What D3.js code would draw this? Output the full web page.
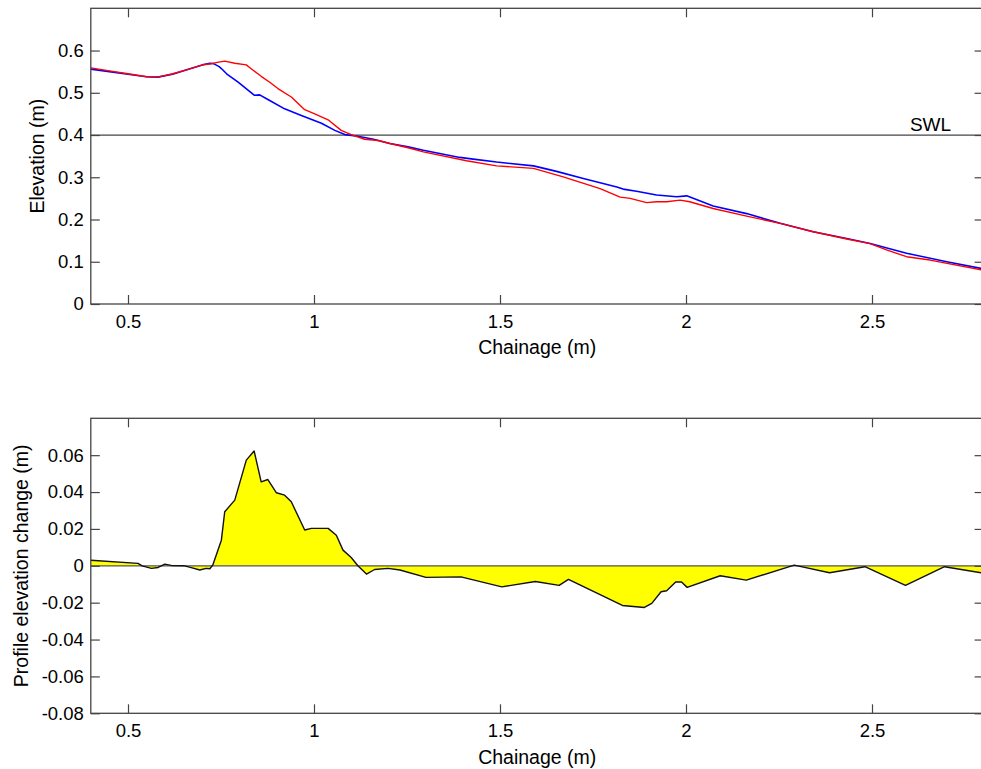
<!DOCTYPE html>
<html>
<head>
<meta charset="utf-8">
<script src="https://cdn.jsdelivr.net/npm/d3@7/dist/d3.min.js"></script>
<style>
  html, body { margin: 0; padding: 0; background: #fff; }
  svg { display: block; font-family: "Liberation Sans", Arial, Helvetica, sans-serif; }
  .tick text { font-size: 18.5px; fill: #000; }
  .tick line { stroke: #444; stroke-width: 1.2; }
</style>
</head>
<body>
<svg id="fig" width="981" height="769"></svg>
<script>
// Beach profile measurements: initial (blue) and final (red) elevation, chainage in metres
const initialChainage = [0.40, 0.45, 0.50, 0.55, 0.58, 0.62, 0.66, 0.70, 0.72, 0.73, 0.745, 0.755, 0.765, 0.796, 0.84, 0.854, 0.876, 0.921, 0.966, 1.02, 1.056, 1.083, 1.118, 1.16, 1.204, 1.253, 1.294, 1.392, 1.428, 1.491, 1.59, 1.652, 1.724, 1.814, 1.831, 1.867, 1.921, 1.975, 2.002, 2.073, 2.163, 2.253, 2.342, 2.432, 2.495, 2.593, 2.701, 2.80];
const initialElevation = [0.556, 0.550, 0.544, 0.538, 0.537, 0.544, 0.555, 0.566, 0.570, 0.569, 0.562, 0.554, 0.545, 0.525, 0.494, 0.495, 0.484, 0.462, 0.446, 0.428, 0.411, 0.401, 0.397, 0.390, 0.380, 0.372, 0.364, 0.347, 0.343, 0.336, 0.327, 0.314, 0.297, 0.277, 0.272, 0.267, 0.258, 0.254, 0.256, 0.232, 0.214, 0.191, 0.171, 0.155, 0.143, 0.120, 0.100, 0.083];

const finalChainage = [0.40, 0.45, 0.50, 0.55, 0.58, 0.62, 0.66, 0.70, 0.72, 0.74, 0.76, 0.787, 0.818, 0.831, 0.858, 0.881, 0.903, 0.939, 0.975, 1.002, 1.038, 1.073, 1.10, 1.136, 1.172, 1.204, 1.253, 1.294, 1.41, 1.491, 1.59, 1.67, 1.769, 1.823, 1.85, 1.894, 1.921, 1.948, 1.984, 2.01, 2.073, 2.163, 2.253, 2.342, 2.432, 2.495, 2.539, 2.593, 2.656, 2.80];
const finalElevation = [0.559, 0.552, 0.545, 0.538, 0.537, 0.545, 0.555, 0.566, 0.568, 0.572, 0.575, 0.570, 0.566, 0.557, 0.539, 0.525, 0.510, 0.490, 0.460, 0.450, 0.436, 0.411, 0.401, 0.390, 0.387, 0.380, 0.370, 0.360, 0.339, 0.327, 0.321, 0.301, 0.273, 0.253, 0.250, 0.240, 0.242, 0.242, 0.246, 0.242, 0.226, 0.208, 0.191, 0.171, 0.154, 0.143, 0.128, 0.112, 0.104, 0.080];

// Profile elevation change (final minus initial)
const changeChainage = [0.40, 0.527, 0.538, 0.563, 0.581, 0.599, 0.616, 0.652, 0.670, 0.693, 0.710, 0.720, 0.728, 0.751, 0.760, 0.787, 0.818, 0.839, 0.858, 0.876, 0.899, 0.921, 0.939, 0.975, 0.993, 1.038, 1.060, 1.078, 1.100, 1.118, 1.141, 1.163, 1.199, 1.231, 1.301, 1.395, 1.505, 1.595, 1.659, 1.684, 1.829, 1.888, 1.908, 1.933, 1.948, 1.973, 1.988, 2.003, 2.092, 2.162, 2.291, 2.386, 2.481, 2.590, 2.695, 2.80];
const changeValue = [0.0030, 0.0013, 0.0, -0.0014, -0.0009, 0.0009, 0.0002, 0.0, -0.0010, -0.0023, -0.0014, -0.0016, 0.0004, 0.0139, 0.0293, 0.0356, 0.0573, 0.0623, 0.0455, 0.0468, 0.0396, 0.0383, 0.0347, 0.0194, 0.0203, 0.0203, 0.0166, 0.0085, 0.0045, 0.0, -0.0045, -0.0020, -0.0014, -0.0023, -0.0063, -0.0060, -0.0114, -0.0085, -0.0106, -0.0074, -0.0215, -0.0226, -0.0204, -0.0141, -0.0135, -0.0087, -0.0088, -0.0117, -0.0054, -0.0078, 0.0004, -0.0038, -0.0005, -0.0106, -0.0005, -0.0040];

// Still water level
const swlLevel = 0.4;
const swlLabel = "SWL";

// Axis ticks and labels
const chainageTicks = [0.5, 1, 1.5, 2, 2.5];
const chainageTickLabels = ["0.5", "1", "1.5", "2", "2.5"];
const elevationTicks = [0, 0.1, 0.2, 0.3, 0.4, 0.5, 0.6];
const elevationTickLabels = ["0", "0.1", "0.2", "0.3", "0.4", "0.5", "0.6"];
const changeTicks = [-0.08, -0.06, -0.04, -0.02, 0, 0.02, 0.04, 0.06];
const changeTickLabels = ["-0.08", "-0.06", "-0.04", "-0.02", "0", "0.02", "0.04", "0.06"];

const chainageDomain = [0.4, 2.8];
const elevationDomain = [0, 0.7];
const changeDomain = [-0.08, 0.08];

const svg = d3.select("#fig");
const left = 90.8, right = 983.6;
const tickLen = 9;

const x = d3.scaleLinear().domain(chainageDomain).range([left, right]);

function frame(g, top, bottom, yScale, yTicks, yLabels) {
  const w = right - left;
  const h = bottom - top;
  const bottomAxis = d3.axisBottom(x).tickValues(chainageTicks)
    .tickFormat((d, i) => chainageTickLabels[i]).tickSizeInner(-tickLen).tickSizeOuter(0).tickPadding(11);
  const topAxis = d3.axisTop(x).tickValues(chainageTicks)
    .tickFormat("").tickSizeInner(-tickLen).tickSizeOuter(0);
  const leftAxis = d3.axisLeft(yScale).tickValues(yTicks)
    .tickFormat((d, i) => yLabels[i]).tickSizeInner(-tickLen).tickSizeOuter(0).tickPadding(7);
  const rightAxis = d3.axisRight(yScale).tickValues(yTicks)
    .tickFormat("").tickSizeInner(-tickLen).tickSizeOuter(0);

  g.append("g").attr("transform", `translate(0,${bottom})`).call(bottomAxis).call(a => a.select(".domain").remove());
  g.append("g").attr("transform", `translate(0,${top})`).call(topAxis).call(a => a.select(".domain").remove());
  g.append("g").attr("transform", `translate(${left},0)`).call(leftAxis).call(a => a.select(".domain").remove());
  g.append("g").attr("transform", `translate(${right},0)`).call(rightAxis).call(a => a.select(".domain").remove());
  g.selectAll(".tick text").attr("font-family", null).attr("font-size", null);

  g.append("rect")
    .attr("x", left).attr("y", top).attr("width", w).attr("height", h)
    .attr("fill", "none").attr("stroke", "#444").attr("stroke-width", 1.3);
}

// ---------- Upper panel: elevation profiles ----------
const topY0 = 8.3, topY1 = 304;
const yTop = d3.scaleLinear().domain(elevationDomain).range([topY1, topY0]);
const gTop = svg.append("g");

gTop.append("line")
  .attr("x1", x(chainageDomain[0])).attr("x2", x(chainageDomain[1]))
  .attr("y1", yTop(swlLevel)).attr("y2", yTop(swlLevel))
  .attr("stroke", "#444").attr("stroke-width", 1.3);

const profileLine = d3.line().x(d => x(d[0])).y(d => yTop(d[1]));

gTop.append("path")
  .datum(d3.zip(initialChainage, initialElevation))
  .attr("d", profileLine)
  .attr("fill", "none").attr("stroke", "#0000ff").attr("stroke-width", 1.6)
  .attr("stroke-linejoin", "round");

gTop.append("path")
  .datum(d3.zip(finalChainage, finalElevation))
  .attr("d", profileLine)
  .attr("fill", "none").attr("stroke", "#ff0000").attr("stroke-width", 1.4)
  .attr("stroke-linejoin", "round");

gTop.append("text")
  .attr("x", x(2.602)).attr("y", yTop(swlLevel) - 4.5)
  .attr("font-size", 19).text(swlLabel);

frame(gTop, topY0, topY1, yTop, elevationTicks, elevationTickLabels);

gTop.append("text")
  .attr("x", (left + right) / 2).attr("y", topY1 + 50.3)
  .attr("text-anchor", "middle").attr("font-size", 19.5).text("Chainage (m)");

gTop.append("text")
  .attr("transform", `translate(44.3,${(topY0 + topY1) / 2}) rotate(-90)`)
  .attr("text-anchor", "middle").attr("font-size", 19.5).text("Elevation (m)");

// ---------- Lower panel: elevation change ----------
const botY0 = 418.3, botY1 = 713.3;
const yBot = d3.scaleLinear().domain(changeDomain).range([botY1, botY0]);
const gBot = svg.append("g");
const changeData = d3.zip(changeChainage, changeValue);

gBot.append("path")
  .datum(changeData)
  .attr("d", d3.area().x(d => x(d[0])).y0(yBot(0)).y1(d => yBot(d[1])))
  .attr("fill", "#ffff00").attr("stroke", "none");

gBot.append("line")
  .attr("x1", x(chainageDomain[0])).attr("x2", x(chainageDomain[1]))
  .attr("y1", yBot(0)).attr("y2", yBot(0))
  .attr("stroke", "#555").attr("stroke-width", 1.3);

gBot.append("path")
  .datum(changeData)
  .attr("d", d3.line().x(d => x(d[0])).y(d => yBot(d[1])))
  .attr("fill", "none").attr("stroke", "#111").attr("stroke-width", 1.4)
  .attr("stroke-linejoin", "round");

frame(gBot, botY0, botY1, yBot, changeTicks, changeTickLabels);

gBot.append("text")
  .attr("x", (left + right) / 2).attr("y", botY1 + 50.3)
  .attr("text-anchor", "middle").attr("font-size", 19.5).text("Chainage (m)");

gBot.append("text")
  .attr("transform", `translate(27.5,${(botY0 + botY1) / 2}) rotate(-90)`)
  .attr("text-anchor", "middle").attr("font-size", 19.5).text("Profile elevation change (m)");
</script>
</body>
</html>
